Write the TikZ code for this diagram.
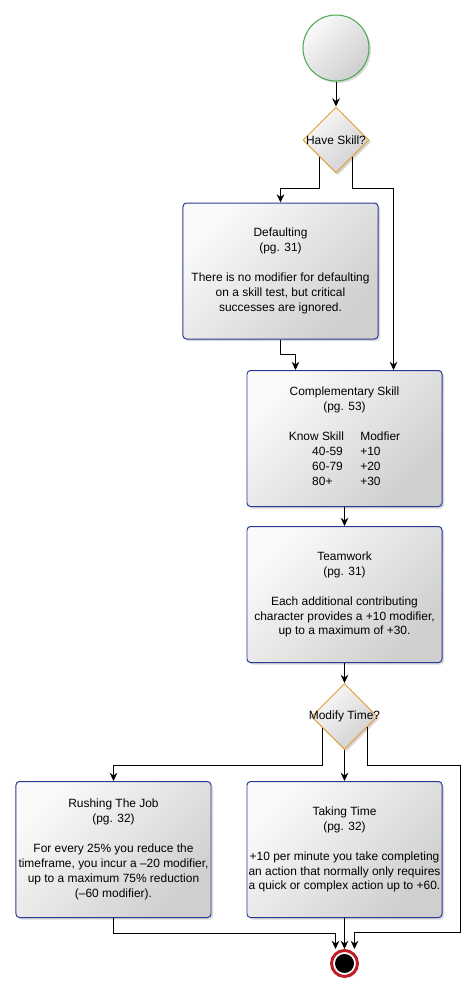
\documentclass[tikz,border=0pt]{standalone}
\usepackage{fontspec}
\setmainfont{Liberation Sans}
\usetikzlibrary{arrows.meta,positioning,shapes.geometric,shadows,calc}
\definecolor{boxblue}{RGB}{40,60,150}
\definecolor{decorange}{RGB}{225,160,60}
\definecolor{startgreen}{RGB}{70,170,70}
\definecolor{endred}{RGB}{190,30,40}

\begin{document}
\begin{tikzpicture}[x=0.03cm,y=-0.03cm,->,>={Stealth[length=7pt,width=6.5pt]},
            line width=0.85pt,font=\fontsize{10.2}{12.75}\selectfont,
            grey fill/.style={top color=gray!4,bottom color=gray!38,shading angle=45,
              drop shadow={shadow xshift=0.06cm,shadow yshift=-0.06cm,opacity=0.3,fill=gray}},
            main box/.style={rectangle,rounded corners=3pt,draw=boxblue,grey fill,inner sep=0pt,
              minimum width=5.85cm,minimum height=4.08cm,align=center},
            decision/.style={diamond,aspect=1,draw=decorange,grey fill,inner sep=0pt,
              minimum size=1.98cm},
            start node/.style={circle,draw=startgreen,grey fill,minimum size=1.98cm},
            end node/.style={circle,draw=endred,line width=2.5pt,fill=white,inner sep=0pt,
              minimum size=0.78cm,drop shadow={shadow xshift=0.04cm,shadow yshift=-0.04cm,opacity=0.3,fill=gray},
              path picture={\fill[black] (path picture bounding box.center) circle (0.285cm);}}]

        \useasboundingbox (0,0) rectangle (475,1000);

        % Define vertices
        \node[start node] (start) at (336,48) {};
        \node[decision] (skill) [below=0.75cm of start,label={center:Have Skill?}] {};
        \node[main box] (def) at (280.5,271) {Defaulting\\(pg. 31)\\[12.75pt]There is no modifier for defaulting\\on a skill test, but critical\\successes are ignored.};
        \node[main box] (comp) at (344.5,438.5) {Complementary Skill\\(pg. 53)\\[12.75pt]%
            \begin{tabular}[t]{@{}l@{\hspace{14pt}}l@{}}Know Skill & Modfier\\\hspace{20pt}40-59 & +10\\\hspace{20pt}60-79 & +20\\\hspace{20pt}80+ & +30\end{tabular}};
        \node[main box] (team) [below=0.57cm of comp] {Teamwork\\(pg. 31)\\[12.75pt]Each additional contributing\\character provides a +10 modifier,\\up to a maximum of +30.};
        \node[decision] (time) [below=0.6cm of team,label={center:Modify Time?}] {};
        \node[main box] (take) [below=0.93cm of time] {Taking Time\\(pg. 32)\\[12.75pt]+10 per minute you take completing\\an action that normally only requires\\a quick or complex action up to +60.};
        \node[main box] (rush) [left=1.05cm of take] {Rushing The Job\\(pg. 32)\\[12.75pt]For every 25\% you reduce the\\timeframe, you incur a –20 modifier,\\up to a maximum 75\% reduction\\(–60 modifier).};
        \node[end node] (fin) [below=0.93cm of take] {};

        % Draw edges
        \path (start) edge (skill)
            (comp) edge (team)
            (team) edge (time)
            (time) edge (take)
            (take) edge (fin);
        \draw (skill.south west) -- ++(0,32) -| (def.north);
        \draw (skill.south east) -- ++(0,32) -| ($(comp.north west)!0.75!(comp.north east)$);
        \draw (def.south) -- ++(0,15) -| ($(comp.north west)!0.25!(comp.north east)$);
        \draw ($(time.west)!0.33!(time.south)$) -- ++(0,38) -| (rush.north);
        \draw ($(time.east)!0.3!(time.south)$) -- ++(0,39) -- ++(93,0) -- ++(0,167) -| ([xshift=0.3cm]fin.north);
        \draw (rush.south) -- ++(0,15) -| ([xshift=-0.27cm]fin.north);

\end{tikzpicture}
\end{document}
